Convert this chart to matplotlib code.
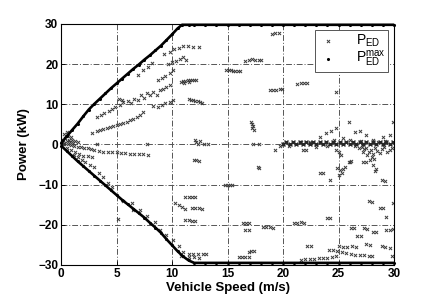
import matplotlib
matplotlib.use("Agg")
import matplotlib.pyplot as plt

plt.rcParams['font.family'] = ['Liberation Sans', 'DejaVu Sans']
plt.rcParams['mathtext.fontset'] = 'custom'
plt.rcParams['mathtext.rm'] = 'Liberation Sans'
plt.rcParams['mathtext.it'] = 'Liberation Sans'

# ---- maximum power envelope (upper / lower) ----
max_up_speed = [0, 0.5, 1.0, 1.5, 2.0, 2.5, 3.0, 3.5, 4.0, 4.5, 5.0, 5.5, 6.0, 6.5, 7.0,
                7.5, 8.0, 8.5, 9.0, 9.5, 10.0, 10.5, 10.9, 11.5, 12, 13, 14, 15, 16, 17,
                18, 19, 20, 21, 22, 23, 24, 25, 26, 27, 28, 29, 30]
max_up_power = [0.3, 2.0, 3.6, 5.2, 7.0, 8.7, 10.1, 11.4, 12.7, 14.0, 15.2, 16.4, 17.6, 18.8, 19.9,
                21.1, 22.2, 23.4, 24.6, 26.0, 27.4, 28.9, 29.8, 29.8, 29.8, 29.8, 29.8, 29.8, 29.8, 29.8,
                29.8, 29.8, 29.8, 29.8, 29.8, 29.8, 29.8, 29.8, 29.8, 29.8, 29.8, 29.8, 29.8]
max_low_speed = [0, 0.5, 1.0, 1.5, 2.0, 2.5, 3.0, 3.5, 4.0, 4.5, 5.0, 5.5, 6.0, 6.5, 7.0,
                 7.5, 8.0, 8.5, 9.0, 9.5, 10.0, 10.5, 11.0, 11.5, 12, 13, 14, 15, 16, 17,
                 18, 19, 20, 21, 22, 23, 24, 25, 26, 27, 28, 29, 30]
max_low_power = [-0.3, -1.6, -2.9, -4.2, -5.4, -6.6, -7.8, -9.0, -10.2, -11.4, -12.6, -13.8, -14.9, -16.0, -17.1,
                 -18.2, -19.5, -20.7, -22.0, -23.6, -25.1, -26.6, -27.9, -28.9, -29.5, -29.5, -29.5, -29.5, -29.5, -29.5,
                 -29.5, -29.5, -29.5, -29.5, -29.5, -29.5, -29.5, -29.5, -29.5, -29.5, -29.5, -29.5, -29.5]

# ---- operating points, positive power ----
ed_pos_speed = [0.1, 0.2, 0.3, 0.4, 0.5, 0.6, 0.7, 0.8, 0.9, 1.0, 1.1, 1.3, 0.3, 0.5, 0.2, 1.5,
                2.8, 3.2, 3.5, 3.8, 4.1, 4.4, 4.7, 5.0, 5.3, 5.6, 5.9, 6.2, 6.5, 6.8, 7.1, 7.4,
                8.3, 8.7, 9.1, 9.4, 9.8, 10.1,
                5.3, 5.6, 6.0, 6.3, 6.6, 6.9, 7.2, 7.5, 7.7, 8.0, 8.3, 8.6, 8.9, 9.2, 9.5, 9.8,
                3.2, 3.6, 3.9, 4.3, 4.6, 4.9, 5.2, 5.5,
                6.9, 7.4, 7.8, 8.2, 8.7, 9.1, 9.4, 9.8, 10.1, 9.6, 10.0, 10.4, 10.7, 11.0, 11.3,
                9.3, 9.8, 10.2, 10.6, 11.0, 11.4, 11.9, 12.4,
                10.8, 11.0, 11.2, 11.4, 11.6, 11.8, 12.0, 12.2, 11.1, 11.5,
                11.5, 11.7, 11.9, 12.1, 12.3, 12.5, 12.7,
                14.9, 15.1, 15.3, 15.5, 15.7, 15.9, 16.1,
                16.6, 16.9, 17.2, 17.5, 17.8, 18.0,
                19.0, 19.3, 19.6,
                18.8, 19.1, 19.4, 19.7, 19.9,
                21.3, 21.6, 21.9, 22.2, 24.8,
                17.1, 17.2, 17.3, 17.2, 17.4, 25.9, 29.9,
                12.1, 12.2, 12.3, 12.5, 12.9, 13.2, 3.2, 7.7, 17.3, 17.8,
                24.8, 24.3, 23.9, 23.3, 22.4, 26.5, 26.9, 27.5, 28.1, 29.0, 29.6, 25.4, 26.0, 24.6,
                21.6, 27.0, 28.6, 29.2]
ed_pos_power = [0.5, 1.0, 0.3, 1.5, 0.8, 2.0, 1.2, 0.5, 1.8, 1.0, 0.4, 0.8, 2.5, 3.0, 0.1, 0.5,
                2.9, 3.3, 3.6, 3.8, 4.1, 4.3, 4.6, 4.8, 5.1, 5.4, 5.7, 6.0, 6.4, 6.9, 7.4, 8.0,
                9.5, 9.4, 9.8, 10.2, 10.6, 11.1,
                9.9, 10.6, 10.9, 10.4, 11.3, 11.0, 12.3, 11.5, 12.9, 12.2, 13.0, 12.4, 13.6, 13.9, 14.4, 14.7,
                6.9, 7.4, 7.8, 8.4, 8.8, 9.4, 11.2, 11.1,
                17.3, 18.6, 19.3, 20.3, 16.0, 16.6, 17.0, 17.8, 18.5, 20.1, 20.5, 20.7, 21.3, 21.8, 21.0,
                22.6, 23.1, 23.8, 24.0, 24.5, 24.4, 24.3, 24.3,
                15.6, 15.8, 15.9, 16.0, 16.0, 16.1, 16.1, 16.0, 15.4, 15.5,
                11.2, 11.1, 11.0, 10.8, 10.7, 10.5, 10.3,
                18.6, 18.5, 18.5, 18.4, 18.4, 18.4, 18.3,
                20.9, 21.1, 21.2, 21.1, 21.0, 21.0,
                27.6, 27.8, 27.7,
                13.5, 13.6, 13.6, 13.7, 13.8,
                15.1, 15.2, 15.3, 15.2, 13.1,
                5.6, 5.0, 4.5, 4.0, 3.6, 5.7, 5.7,
                1.2, 0.6, 0.2, 0.9, 0.1, 0.0, 0.1, 0.1, 0.0, 0.0,
                4.0, 3.4, 2.8, 1.9, 0.7, 3.2, 3.4, 2.4, 1.1, 1.9, 2.4, 1.6, 1.0, 1.2,
                0.5, 0.8, 0.5, 0.9]

# ---- operating points along zero power (20-30 m/s) ----
ed_zero_speed = [20.0, 20.3, 20.6, 20.9, 21.2, 21.5, 21.8, 22.1, 22.4, 22.7, 23.0, 23.3,
                 23.6, 23.9, 24.2, 24.5, 24.8, 25.1, 25.4, 25.7, 26.0, 26.3, 26.6, 26.9,
                 27.2, 27.5, 27.8, 28.1, 28.4, 28.7, 29.0, 29.3, 29.6, 29.9]
ed_zero_power = [0.1, 0.5, 0.1, 0.5, 0.1, 0.5, 0.1, 0.5, 0.1, 0.5, 0.1, 0.5,
                 0.1, 0.5, 0.1, 0.5, 0.1, 0.5, 0.1, 0.5, 0.1, 0.5, 0.1, 0.5,
                 0.1, 0.5, 0.1, 0.5, 0.1, 0.5, 0.1, 0.5, 0.1, 0.5]

# ---- operating points, negative power ----
ed_neg_speed = [0.3, 0.6, 0.9, 1.2, 1.5, 1.8, 2.1, 2.4, 2.7,
                3.0, 3.4, 3.8, 4.2, 4.6, 5.0, 5.4, 5.8, 6.2, 6.6, 7.0, 7.4, 7.8,
                0.5, 0.9, 1.3, 1.6, 2.0, 2.4, 2.8, 1.2, 1.5, 1.9, 2.2, 2.6, 3.0,
                3.4, 3.8, 4.2, 4.6, 5.6, 6.4, 5.1, 6.5, 7.1, 7.7, 8.5, 8.9, 9.5, 10.1, 10.6, 11.0,
                11.5, 11.9, 12.3, 12.8, 13.1, 11.5, 12.0, 12.4, 10.8,
                12.0, 12.2, 12.4, 14.8, 15.0, 15.2, 15.4,
                11.2, 11.5, 11.8, 12.1, 10.3, 10.6, 10.9, 11.2,
                11.8, 12.1, 12.4, 12.7, 11.2, 11.5, 11.8, 12.1,
                17.8, 17.7, 19.7, 19.3,
                16.4, 16.7, 16.9, 16.6, 16.9, 18.2, 18.5, 18.8, 19.1,
                21.0, 21.3, 21.6, 21.9, 16.9, 17.1, 17.4, 16.0, 16.3, 16.6, 16.9,
                22.2, 22.5,
                21.6, 22.0, 22.4, 22.8, 23.2, 23.6, 24.0, 24.4, 24.8,
                24.1, 24.5, 24.9, 25.3, 25.7, 26.1, 26.5,
                25.0, 25.4, 25.8, 26.2, 26.6, 27.5, 27.8,
                26.9, 27.3, 27.7, 28.0, 28.9, 29.2, 29.6, 29.8,
                26.1, 26.4, 27.3, 27.6, 26.7, 27.0, 28.1, 28.4, 29.3, 29.6, 29.9,
                24.0, 24.2, 27.7, 28.0, 28.7, 29.0, 29.3, 29.9,
                23.3, 23.6, 24.2, 24.9, 25.1, 25.3, 25.0, 25.4, 25.6, 25.9, 26.1,
                27.2, 27.5, 28.1, 28.4, 28.3, 28.9, 29.2,
                27.1, 27.3, 27.5, 27.7, 27.9, 28.1, 28.3, 28.0, 27.6, 28.5, 28.7, 28.2, 27.8,
                28.9, 29.1, 29.4, 29.6, 29.8, 27.2, 26.8, 26.5,
                22.1, 21.8, 22.4, 24.8, 25.0, 25.2, 20.5, 23.0, 24.0, 26.0]
ed_neg_power = [0.2, 0.0, -0.2, -0.4, -0.6, -0.7, -0.9, -1.0, -1.1,
                -1.4, -1.6, -1.8, -1.9, -2.0, -2.0, -2.1, -2.2, -2.3, -2.4, -2.4, -2.5, -2.6,
                -0.8, -1.3, -1.8, -2.3, -2.8, -3.0, -3.2, -2.6, -3.2, -3.8, -4.4, -5.0, -5.6,
                -7.2, -8.0, -9.5, -10.6, -14.2, -14.6, -18.5, -16.3, -16.3, -17.8, -19.2, -21.3, -22.5, -23.8, -25.4, -26.7,
                -27.3, -27.3, -27.3, -27.3, -27.3, -28.1, -28.1, -28.2, -27.8,
                -3.9, -3.9, -4.0, -10.1, -10.0, -10.1, -10.2,
                -13.1, -13.0, -13.1, -13.2, -14.6, -15.1, -15.6, -16.1,
                -15.9, -15.9, -15.9, -16.0, -18.8, -18.9, -19.0, -19.0,
                -5.9, -5.5, -0.5, -1.4,
                -19.6, -19.5, -19.5, -21.3, -21.3, -20.6, -20.6, -20.6, -20.7,
                -19.6, -19.5, -19.4, -19.5, -26.7, -26.6, -26.6, -28.0, -28.0, -28.0, -28.1,
                -25.3, -25.3,
                -28.7, -28.6, -28.6, -28.5, -28.4, -28.3, -28.2, -28.1, -27.9,
                -26.2, -26.4, -26.6, -26.8, -27.0, -27.2, -27.5,
                -25.4, -25.5, -25.5, -25.4, -25.5, -24.9, -25.0,
                -27.5, -27.6, -27.7, -27.7, -25.4, -25.5, -25.8, -27.9,
                -20.9, -20.9, -20.9, -21.0, -22.8, -22.8, -21.9, -21.9, -21.3, -21.2, -21.0,
                -18.4, -18.4, -14.2, -14.3, -15.9, -15.9, -18.0, -14.6,
                -7.2, -7.2, -8.9, -5.8, -6.3, -7.0, -7.6, -6.0, -5.5, -4.3, -4.2,
                -4.3, -4.4, -5.1, -6.0, -6.5, -8.8, -9.0,
                -0.6, -1.2, -0.8, -1.8, -1.3, -2.4, -0.9, -3.1, -2.7, -1.6, -2.2, -3.6, -3.9,
                -1.1, -0.6, -1.9, -1.4, -0.8, -2.0, -1.0, -0.5,
                -1.4, -1.4, 0.4, -1.4, -2.0, -2.6, -0.4, -0.6, -0.5, -4.3]

x_ticks = [0, 5, 10, 15, 20, 25, 30]
y_ticks = [-30, -20, -10, 0, 10, 20, 30]

fig = plt.figure(figsize=(4.33, 3.0), dpi=100)
ax = fig.add_axes([0.141, 0.117, 0.769, 0.803])

grid_style = dict(color='#555555', lw=0.7, ls=(0, (6, 2, 1, 2)), zorder=0)
for xv in x_ticks[1:-1]:
    ax.axvline(xv, **grid_style)
for yv in y_ticks[1:-1]:
    ax.axhline(yv, **grid_style)

ed_color = '#3a3a3a'
xm = dict(marker='x', s=5, linewidths=0.7, color=ed_color, zorder=2)
ax.scatter(ed_pos_speed, ed_pos_power, **xm)
ax.scatter(ed_neg_speed, ed_neg_power, **xm)
ax.scatter(ed_zero_speed, ed_zero_power, marker='x', s=8, linewidths=1.0,
           color='#262626', zorder=2)

# envelope drawn as dense dots
ax.plot(max_up_speed, max_up_power, color='black', lw=1.9, zorder=3, clip_on=False,
        solid_capstyle='butt')
ax.plot(max_low_speed, max_low_power, color='black', lw=1.9, zorder=3, clip_on=False,
        solid_capstyle='butt')
ax.scatter(max_up_speed, max_up_power, marker='.', s=6, color='black', zorder=3, clip_on=False)
ax.scatter(max_low_speed, max_low_power, marker='.', s=6, color='black', zorder=3, clip_on=False)

h1 = ax.scatter([], [], marker='x', s=5, linewidths=0.7, color=ed_color)
h2 = ax.scatter([], [], marker='.', s=6, color='black')
leg = ax.legend([h1, h2], [r'$\mathrm{P}_{\mathrm{ED}}$', r'$\mathrm{P}_{\mathrm{ED}}^{\mathrm{max}}$'],
                loc='upper right', fontsize=10, frameon=True, fancybox=False,
                edgecolor='#555555', framealpha=1, borderaxespad=0.45,
                handletextpad=1.2, labelspacing=0.05, borderpad=0.15, handlelength=1.6)
leg.get_frame().set_linewidth(0.7)

ax.set_xlim(0, 30)
ax.set_ylim(-30, 30)
ax.set_xticks(x_ticks)
ax.set_yticks(y_ticks)
ax.tick_params(direction='in', length=3, width=0.6, labelsize=8.5, pad=2)
for lbl in ax.get_xticklabels() + ax.get_yticklabels():
    lbl.set_fontweight('bold')
for s in ax.spines.values():
    s.set_linewidth(0.8)
ax.set_xlabel('Vehicle Speed (m/s)', fontsize=9.5, fontweight='bold', labelpad=2)
ax.set_ylabel('Power (kW)', fontsize=9.5, fontweight='bold', labelpad=6)

fig.savefig('out.png', dpi=100)
